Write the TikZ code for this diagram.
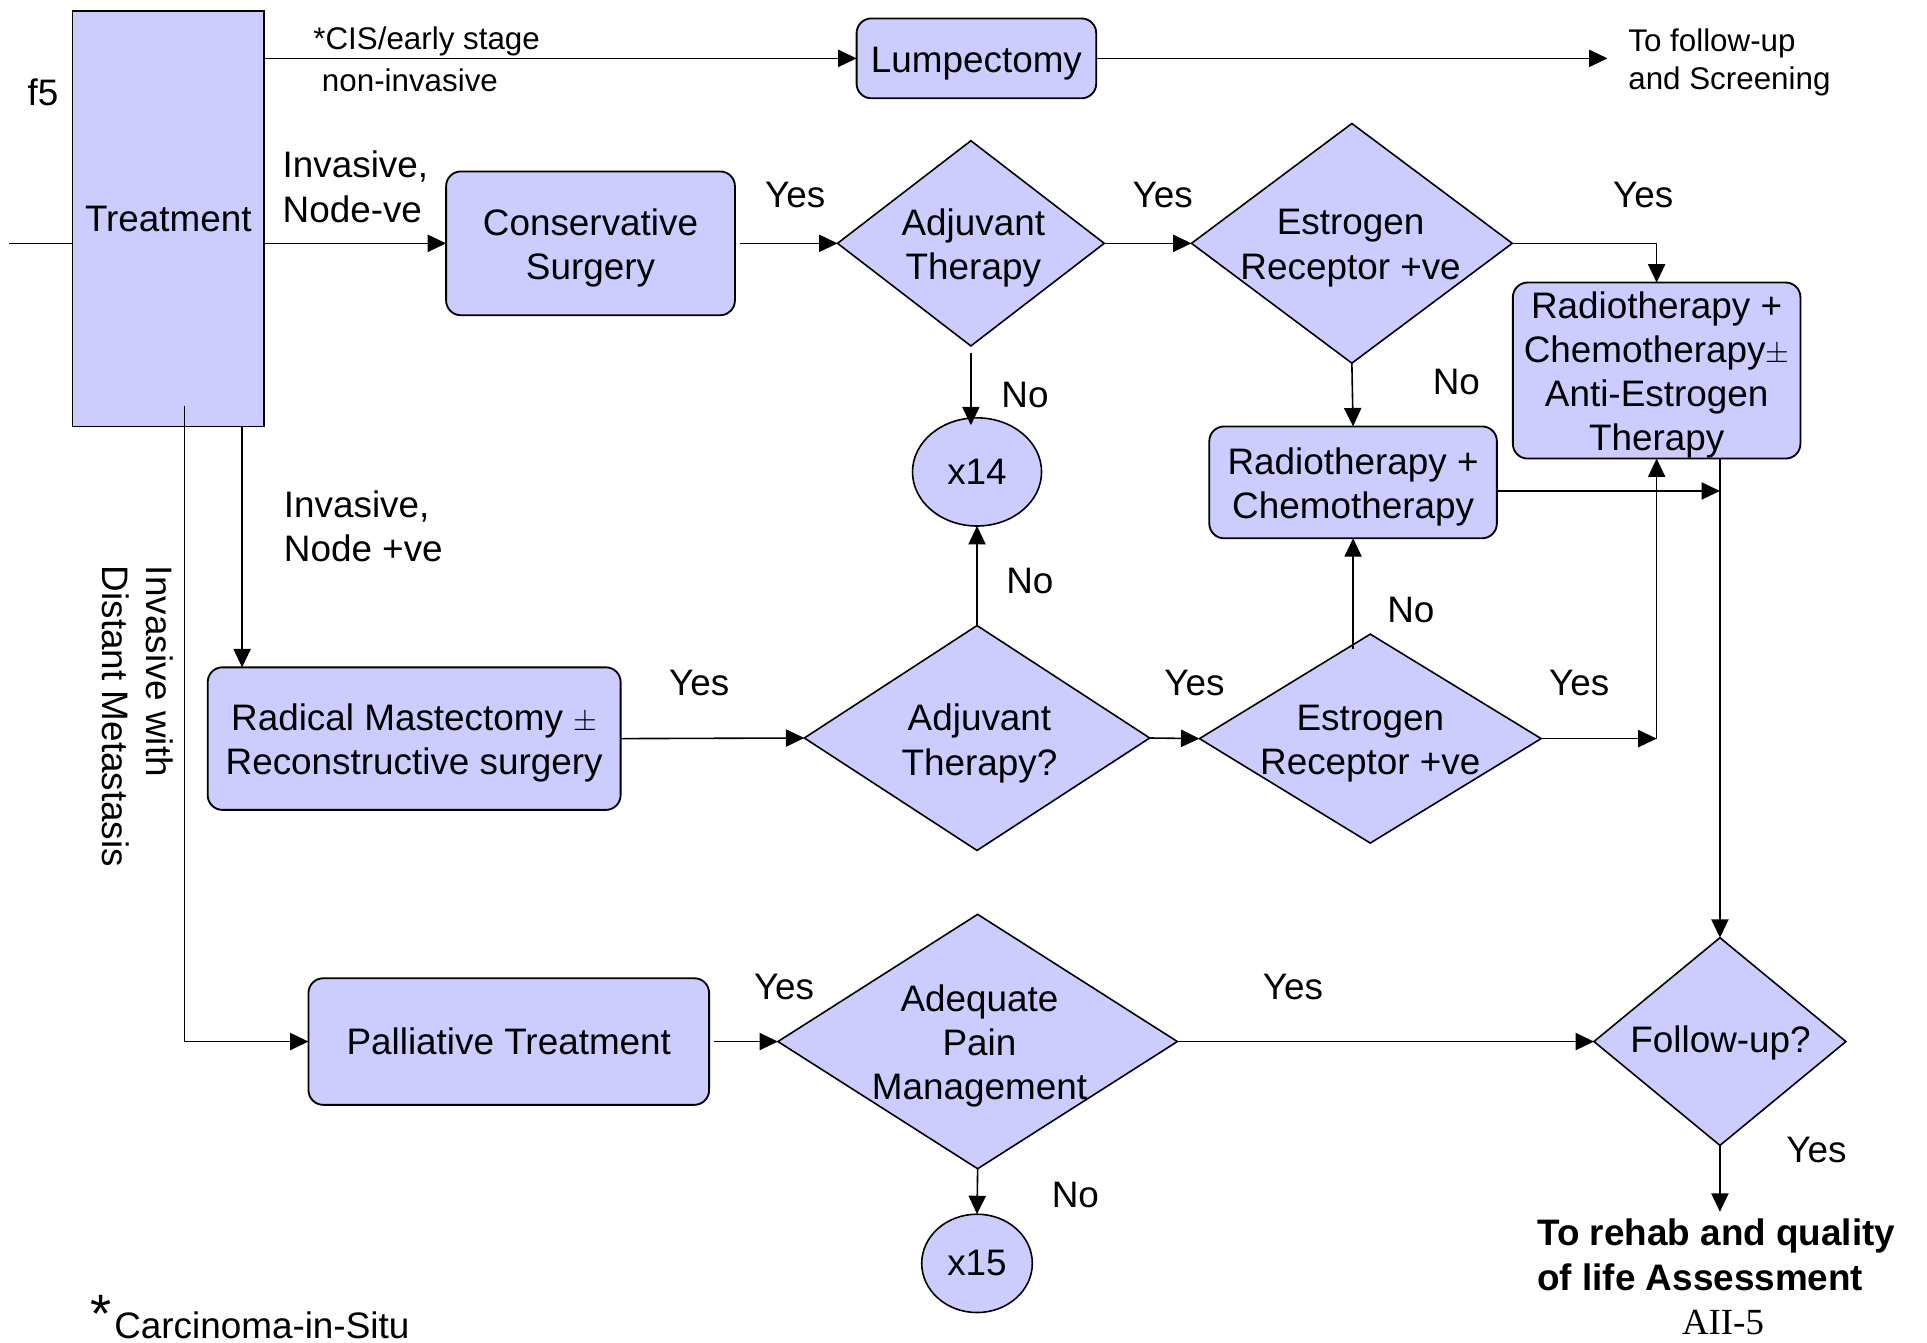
\documentclass[tikz,border=0pt]{standalone}
\usepackage{fontspec}
\setmainfont{Liberation Sans}
\newfontfamily\serifx{Liberation Serif}
\usetikzlibrary{shapes.geometric,arrows.meta}
\definecolor{lav}{RGB}{204,204,255}
\newcommand\stru{\rule{0pt}{29pt}}
\begin{document}
\begin{tikzpicture}[x=1pt,y=-1pt,
  every node/.style={font=\fontsize{30}{36}\selectfont, inner sep=0pt, outer sep=0pt},
  box/.style={draw, fill=lav, rounded corners=12pt, line width=1.5pt, align=center},
  sqbox/.style={draw, fill=lav, line width=1.5pt, align=center},
  dia/.style={draw, fill=lav, diamond, line width=1.3pt},
  ell/.style={draw, fill=lav, ellipse, line width=1.3pt},
  txt/.style={align=center},
  lbl/.style={align=left},
  small/.style={font=\fontsize{25.5}{31}\selectfont, align=left},
  arr/.style={line width=1.3pt, -{Triangle[length=15pt,width=14pt]}},
  ln/.style={line width=1.3pt}]
\useasboundingbox (0,0) rectangle (1568,1092);

% ---- shapes ----
\node[sqbox, minimum width=156pt, minimum height=338pt] (treat) at (137,178) {Treatment};
\node[box, minimum width=195pt, minimum height=65pt] (lump) at (794.5,47.5) {\stru Lumpectomy};
\node[box, minimum width=235pt, minimum height=117pt] (cons) at (480.5,198) {\stru Conservative\\Surgery};
\node[dia, minimum width=217pt, minimum height=167pt] (ad1) at (790,198) {};
\node[dia, minimum width=261pt, minimum height=195pt] (er1) at (1100,198) {};
\node[box, minimum width=234pt, minimum height=143pt] (rca) at (1348,301.5) {\stru Radiotherapy +\\Chemotherapy$\pm$\\Anti-Estrogen\\Therapy};
\node[ell, minimum width=105pt, minimum height=88pt] (x14) at (795,384) {x14};
\node[box, minimum width=234pt, minimum height=91pt] (rc) at (1101,392.5) {\stru Radiotherapy +\\Chemotherapy};
\node[box, minimum width=336pt, minimum height=116pt] (rad) at (337,601) {\stru Radical Mastectomy $\pm$\\Reconstructive surgery};
\node[dia, minimum width=281pt, minimum height=183pt] (ad2) at (795,600.5) {};
\node[dia, minimum width=278pt, minimum height=170pt] (er2) at (1115,601) {};
\node[box, minimum width=326pt, minimum height=103pt] (pal) at (414,847.5) {Palliative Treatment};
\node[dia, minimum width=325pt, minimum height=207pt] (adq) at (795.5,847.5) {};
\node[dia, minimum width=205pt, minimum height=169pt] (fup) at (1399.5,847.5) {};
\node[ell, minimum width=90pt, minimum height=80pt] (x15) at (795,1028) {x15};

% ---- diamond texts ----
\node[txt] (ad1t) at (792,202) {Adjuvant\\Therapy};
\node[txt] (er1t) at (1099,202) {Estrogen\\Receptor +ve};
\node[txt] (ad2t) at (797,605) {Adjuvant\\Therapy?};
\node[txt] (er2t) at (1115,605) {Estrogen\\Receptor +ve};
\node[txt] (adqt) at (797,851) {Adequate\\Pain\\Management};
\node[txt] (fupt) at (1400,849) {Follow-up?};

% ---- free texts ----
\node (f5) at (35,75) {f5};
\node[small, anchor=west] (cis) at (255,34) {*CIS/early stage};
\node[small, anchor=west] (noninv) at (262,65) {non-invasive};
\node[small, anchor=west] (tofu) at (1325,51) {To follow-up\\and Screening};
\node[lbl, anchor=west] (inv1) at (230,152) {Invasive,\\Node-ve};
\node[lbl, anchor=west] (inv2) at (231,428) {Invasive,\\Node +ve};
\node[lbl, rotate=-90] (meta) at (112,583) {Invasive with\\Distant Metastasis};
\node[lbl, anchor=north west, font=\bfseries\fontsize{30}{36}\selectfont] (rehab) at (1251,992) {To rehab and quality\\of life Assessment};
\node[font=\serifx\fontsize{30}{36}\selectfont] (aii) at (1402,1076) {AII-5};
\node[font=\fontsize{44}{44}\selectfont] (star) at (82,1069) {*};
\node[anchor=west] (carc) at (93,1078) {Carcinoma-in-Situ};

% Yes / No labels
\node (y1) at (647,159) {Yes};
\node (y2) at (946,159) {Yes};
\node (y3) at (1337,159) {Yes};
\node (y4) at (569,556) {Yes};
\node (y5) at (972,556) {Yes};
\node (y6) at (1285,556) {Yes};
\node (y7) at (638,803) {Yes};
\node (y8) at (1052,803) {Yes};
\node (y9) at (1478,936) {Yes};
\node (n1) at (834,321) {No};
\node (n2) at (1185,311) {No};
\node (n3) at (838,473) {No};
\node (n4) at (1148,496) {No};
\node (n5) at (875,972) {No};

% ---- connectors ----
\coordinate (inleft) at (7,198);
\coordinate (fuend) at (1308,47.5);
\draw[ln] (inleft) -- (inleft -| treat.west);
\draw[arr] (treat.east |- lump.west) -- (lump.west);
\draw[arr] (lump.east) -- (fuend);
\draw[arr] (treat.east |- cons.west) -- (cons.west);
\draw[arr] ([xshift=4pt]cons.east) -- (ad1.west);
\draw[arr] (ad1.east) -- (er1.west);
\draw[arr] (er1.east) -| (rca.north);
\draw[arr] ([yshift=-6pt]ad1.south) -- ([yshift=-6pt]ad1.south |- x14.north);
\draw[arr] (er1.south) -- (rc.north);
\draw[arr] ([yshift=-7pt]rc.east) -- ([yshift=-7pt]rc.east -| fup.north);
\draw[arr] (rca.south -| fup.north) -- (fup.north);
\draw[arr] (er2.east) -- (er2.east -| rca.south);
\draw[arr] (er2.east -| rca.south) -- (rca.south);
\draw[arr] ([yshift=-12pt]rc.south |- er2.north) -- (rc.south);
\draw[arr] (ad2.north) -- (x14.south);
\draw[arr] (rad.east) -- (ad2.west);
\draw[arr] (ad2.east) -- (er2.west);
\draw[arr] ([xshift=60pt]treat.south) -- ([xshift=60pt]treat.south |- rad.north);
\draw[arr] ([xshift=13pt,yshift=17pt]treat.south) |- (pal.west);
\draw[arr] ([xshift=4pt]pal.east) -- (adq.west);
\draw[arr] (adq.east) -- (fup.west);
\draw[arr] (fup.south) -- ([yshift=6pt]fup.south |- rehab.north);
\draw[arr] (adq.south) -- (x15.north);
\end{tikzpicture}
\end{document}
